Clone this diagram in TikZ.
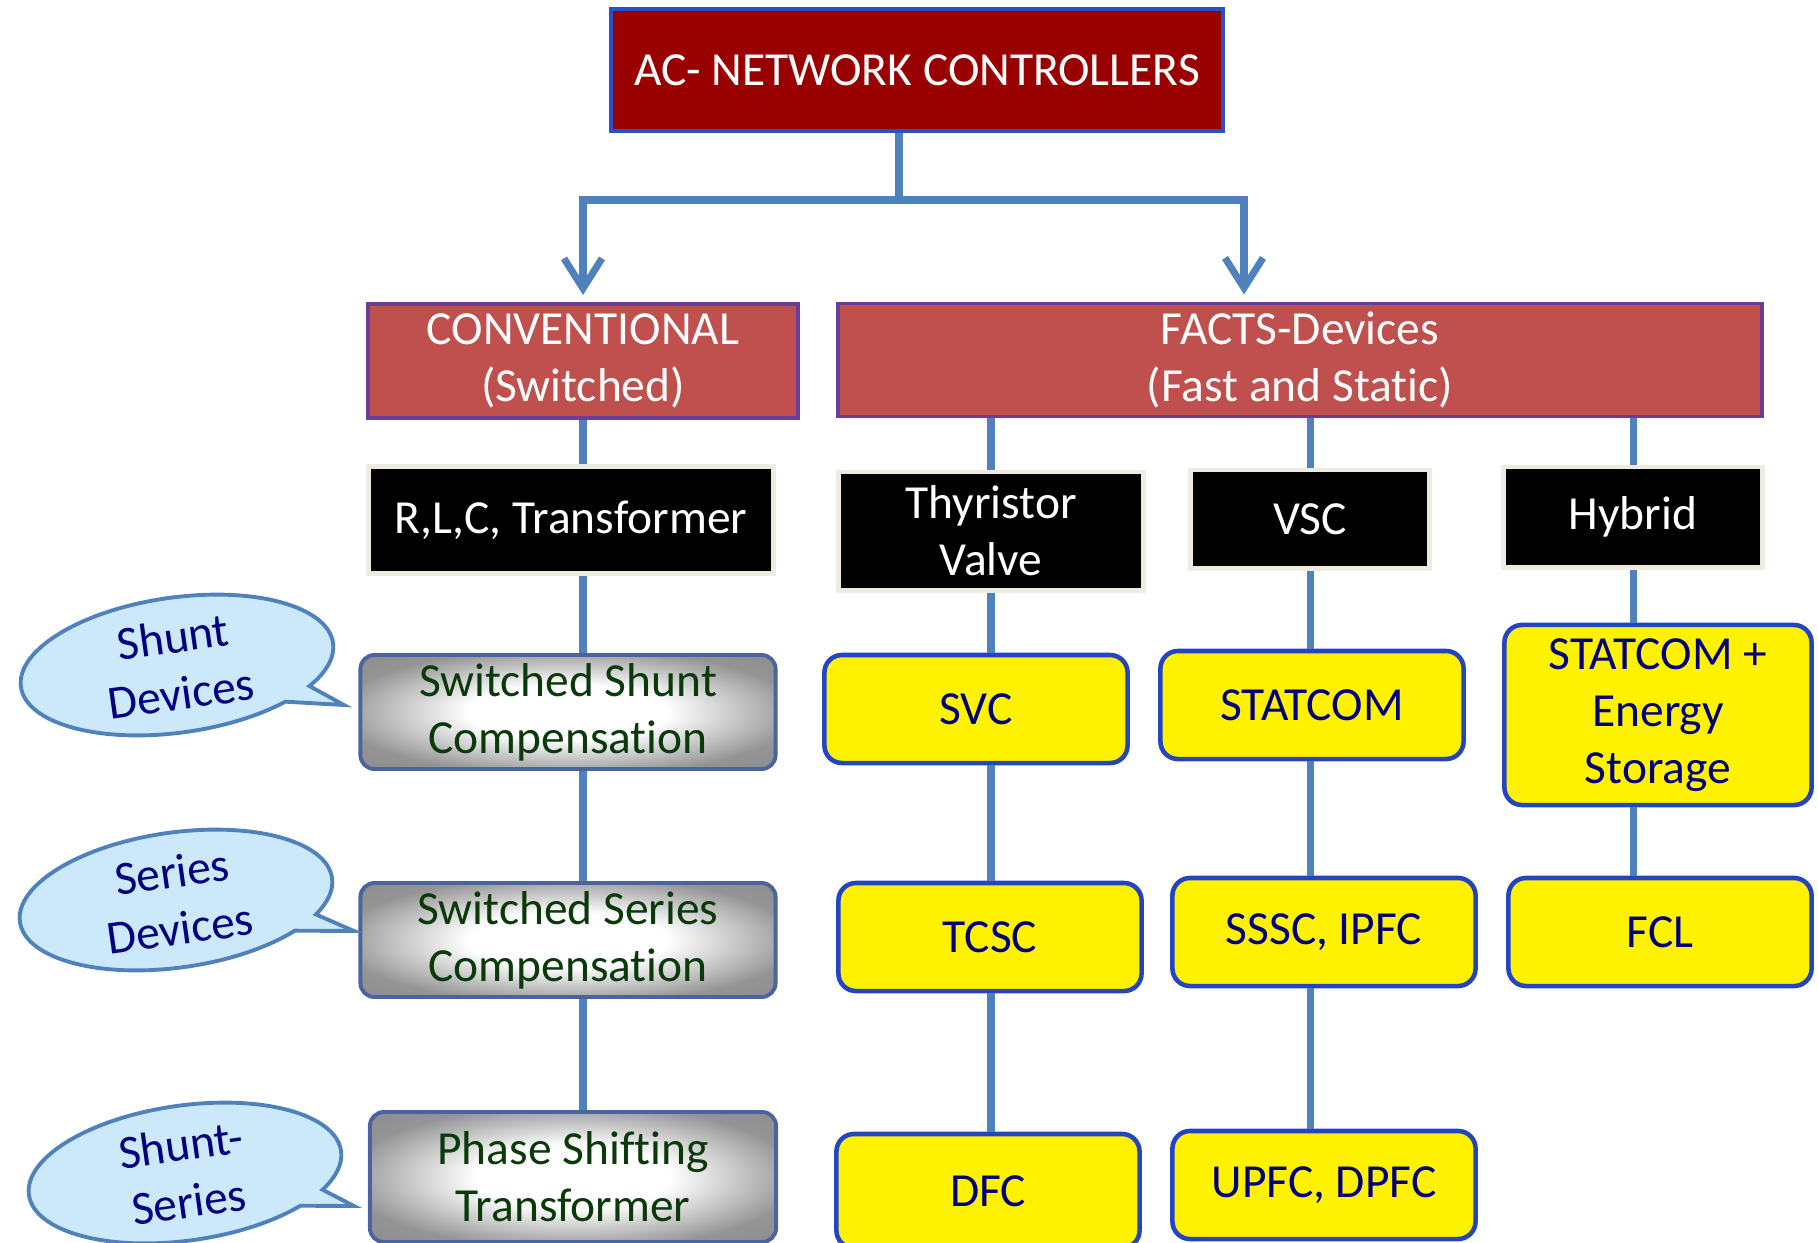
\documentclass[tikz,border=0pt]{standalone}
\usepackage{fontspec}
\setmainfont{Carlito}[Ligatures=NoCommon]
\usetikzlibrary{arrows.meta,shapes.callouts}
\definecolor{acred}{HTML}{990000}
\definecolor{acblue}{HTML}{2B4FC8}
\definecolor{convred}{HTML}{C0504D}
\definecolor{convframe}{HTML}{6A3D9A}
\definecolor{wireblue}{HTML}{4F81BD}
\definecolor{beige}{HTML}{EEECE1}
\definecolor{greyframe}{HTML}{4A64A0}
\definecolor{greentext}{HTML}{0A3A0A}
\definecolor{devblue}{HTML}{2444C0}
\definecolor{devtext}{HTML}{00007A}
\definecolor{bubblefill}{HTML}{CCE8FB}
\definecolor{bubbletext}{HTML}{000080}
\pgfdeclareradialshading{greyglow}{\pgfpoint{0bp}{0bp}}{color(0bp)=(white); color(12bp)=(white); color(28bp)=(black!42); color(50bp)=(black!50)}

\begin{document}
\begin{tikzpicture}[x=0.01cm,y=-0.01cm,
  every node/.style={font=\fontsize{13.5}{16.3}\selectfont,align=center,inner sep=0pt},
  topbox/.style={fill=acred,draw=acblue,line width=1.1pt,text=white,minimum width=6.12cm,minimum height=1.22cm},
  groupbox/.style={fill=convred,draw=convframe,line width=1.1pt,text=white,minimum height=1.14cm},
  kindbox/.style={fill=black,draw=beige,line width=1.4pt,text=white},
  classicbox/.style={shading=greyglow,draw=greyframe,line width=1.1pt,rounded corners=4pt,text=greentext,minimum width=4.15cm,minimum height=1.14cm},
  devbox/.style={fill=yellow,draw=devblue,line width=1.3pt,rounded corners=5pt,text=devtext,minimum width=3.03cm,minimum height=1.08cm},
  bubble/.style={ellipse callout,fill=bubblefill,draw=wireblue,line width=1.1pt,text=bubbletext,minimum width=3.15cm,minimum height=1.35cm,rotate=8,callout pointer arc=14},
  wire/.style={draw=wireblue,line width=2pt},
  arrowwire/.style={wire,shorten >=2pt,-{Straight Barb[length=0.3cm,width=0.38cm]}}]
\useasboundingbox (0,0) rectangle (1818,1242);
\clip (0,0) rectangle (1818,1242);

% top level
\node[topbox] (ac) at (917,70) {AC- NETWORK CONTROLLERS};
\node[groupbox,minimum width=4.29cm] (conv) at (583,361) {CONVENTIONAL\\(Switched)};
\node[groupbox,minimum width=9.24cm,minimum height=1.13cm] (facts) at (1300,360) {FACTS-Devices\\(Fast and Static)};

% kinds
\node[kindbox,minimum width=4.05cm,minimum height=1.07cm] (rlc) at (571,520) {R,L,C, Transformer};
\node[kindbox,minimum width=3.04cm,minimum height=1.18cm] (thy) at (991,531) {Thyristor\\Valve};
\node[kindbox,minimum width=2.39cm,minimum height=0.98cm] (vsc) at (1310,519) {VSC};
\node[kindbox,minimum width=2.58cm,minimum height=1.0cm] (hyb) at (1633,517) {Hybrid};

% conventional devices
\node[classicbox] (shunt) at (568,712) {Switched Shunt\\Compensation};
\node[classicbox] (series) at (568,940) {Switched Series\\Compensation};
\node[classicbox,minimum width=4.06cm,minimum height=1.3cm] (pst) at (573,1177) {Phase Shifting\\Transformer};

% facts devices
\node[devbox] (svc) at (976,709) {SVC};
\node[devbox] (statcom) at (1312,705) {STATCOM};
\node[devbox,minimum width=3.07cm,minimum height=1.8cm] (stes) at (1658,715) {STATCOM +\\Energy\\Storage};
\node[devbox] (tcsc) at (990,937) {TCSC};
\node[devbox] (sssc) at (1324,932) {SSSC, IPFC};
\node[devbox] (fcl) at (1660,932) {FCL};
\node[devbox,minimum height=1.14cm] (dfc) at (988,1191) {DFC};
\node[devbox] (upfc) at (1324,1185) {UPFC, DPFC};

% callouts
\node[bubble,callout absolute pointer={(344,705)}] (b1) at (177,665) {Shunt\\Devices};
\node[bubble,callout absolute pointer={(354,931)}] (b2) at (176,900) {Series\\Devices};
\node[bubble,callout absolute pointer={(354,1206)}] (b3) at (185,1173) {Shunt-\\Series};

% connectors
\coordinate (fork) at (899,200);
\coordinate (right) at (1244,200);
\draw[wire] (ac.south -| fork) -- (fork);
\draw[arrowwire] (fork) -| (conv.north);
\draw[arrowwire] (fork) -- (right) -- (right |- facts.north);
\draw[wire] (conv.south) -- (conv.south |- rlc.north);
\foreach \a/\b in {rlc/shunt,shunt/series,series/pst}
  \draw[wire] (\a.south -| conv.south) -- (\b.north -| conv.south);
\foreach \k in {thy,vsc,hyb}
  \draw[wire] (facts.south -| \k.north) -- (\k.north);
\foreach \col/\a/\b in {thy/thy/svc,thy/svc/tcsc,thy/tcsc/dfc,vsc/vsc/statcom,vsc/statcom/sssc,vsc/sssc/upfc,hyb/hyb/stes,hyb/stes/fcl}
  \draw[wire] (\a.south -| \col) -- (\b.north -| \col);
\end{tikzpicture}
\end{document}
